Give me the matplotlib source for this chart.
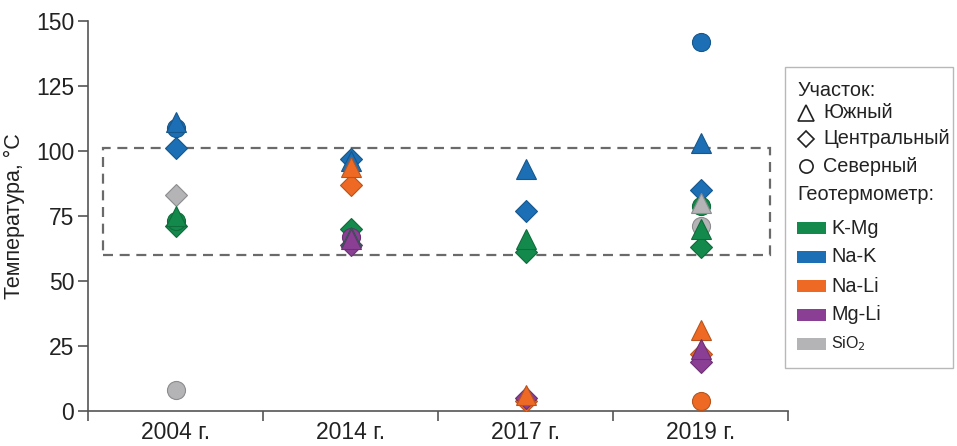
import numpy as np
import matplotlib
matplotlib.use("Agg")
import matplotlib.pyplot as plt
from matplotlib.patches import Rectangle

plt.rcParams["font.family"] = ["Liberation Sans", "DejaVu Sans"]

years = ["2004 г.", "2014 г.", "2017 г.", "2019 г."]
nan = np.nan

# Temperatures (°C) per geothermometer: south (triangle), central (diamond), north (circle)
kmg_south = [75, 67, 66, 70]
kmg_central = [71, 70, 61, 63]
kmg_north = [73, nan, nan, 79]

nak_south = [111, 96, 93, 103]
nak_central = [101, 97, 77, 85]
nak_north = [109, nan, nan, 142]

nali_south = [nan, 94, 6, 31]
nali_central = [nan, 87, 4, 22]
nali_north = [nan, nan, nan, 4]

mgli_south = [nan, 66, nan, 24]
mgli_central = [nan, 64, 5, 19]
mgli_north = [nan, 67, nan, nan]

sio2_south = [nan, nan, nan, 80]
sio2_central = [83, nan, nan, nan]
sio2_north = [8, nan, nan, 71]

# Reference temperature interval shown as a dashed frame
range_low, range_high = 60, 101

series = [
    ("K-Mg", "#138a4c", kmg_south, kmg_central, kmg_north),
    ("Na-K", "#1c6fb4", nak_south, nak_central, nak_north),
    ("Na-Li", "#ee6a24", nali_south, nali_central, nali_north),
    ("Mg-Li", "#8a3f95", mgli_south, mgli_central, mgli_north),
    ("SiO$_2$", "#b4b4b6", sio2_south, sio2_central, sio2_north),
]

W, H = 957, 446
fig = plt.figure(figsize=(W / 100, H / 100), dpi=100)
ax = fig.add_axes([88 / W, 1 - 411 / H, 700 / W, 390 / H])

x = np.arange(len(years))


def darker(c, f=0.78):
    r, g, b = matplotlib.colors.to_rgb(c)
    return (r * f, g * f, b * f)


# diamonds first, then circles, then triangles on top
for z, (idx, marker, ms) in enumerate([(3, "D", 11.0), (4, "o", 13.0), (2, "^", 14.0)]):
    for name, color, *vals in series:
        v = vals[idx - 2]
        ax.plot(x, v, linestyle="none", marker=marker, markersize=ms,
                markerfacecolor=color, markeredgecolor=darker(color),
                markeredgewidth=0.8, zorder=3 + z)

ax.add_patch(Rectangle((-0.415, range_low), 3.81, range_high - range_low,
                       fill=False, edgecolor="#6a6a6a", linewidth=1.6,
                       linestyle=(0, (4.5, 3)), zorder=2))

ax.set_xlim(-0.5, len(years) - 0.5)
ax.set_ylim(0, 150)
ax.set_yticks([0, 25, 50, 75, 100, 125, 150])
ax.set_xticks(x)
ax.set_xticklabels(years)
ax.set_xticks(np.arange(-0.5, len(years)), minor=True)
ax.tick_params(axis="x", which="major", length=0, pad=7, labelsize=16.5, labelcolor="#222222")
ax.tick_params(axis="x", which="minor", length=7, width=1.2, color="#555555", direction="out")
ax.tick_params(axis="y", length=7, width=1.2, color="#555555", pad=3, labelsize=16.5, labelcolor="#222222")
for s in ("top", "right"):
    ax.spines[s].set_visible(False)
for s in ("left", "bottom"):
    ax.spines[s].set_color("#555555")
    ax.spines[s].set_linewidth(1.2)
ax.set_ylabel("Температура, °C", fontsize=15.5, color="#222222", labelpad=8)

# Legend panel
lg = fig.add_axes([0, 0, 1, 1], zorder=10)
lg.set_xlim(0, W)
lg.set_ylim(H, 0)
lg.axis("off")
lg.add_patch(Rectangle((785, 67), 168, 301, fill=True, facecolor="white",
                       edgecolor="#b8b8b8", linewidth=1.0))
fs = 14.3
lg.text(797, 90, "Участок:", fontsize=fs, va="center", ha="left", color="#222222")
sites = [("^", 11, "Южный", 113), ("D", 8, "Центральный", 139), ("o", 9.5, "Северный", 166)]
for m, ms, label, yy in sites:
    lg.plot([806], [yy], marker=m, markersize=ms, markerfacecolor="white",
            markeredgecolor="#222222", markeredgewidth=1.2, linestyle="none")
    lg.text(823, yy, label, fontsize=fs, va="center", ha="left", color="#222222")
lg.text(797, 194, "Геотермометр:", fontsize=fs, va="center", ha="left", color="#222222")
for i, (name, color, *_) in enumerate(series):
    yy = 228 + i * 29
    lg.add_patch(Rectangle((797, yy - 6), 29, 12, facecolor=color, edgecolor="none"))
    lg.text(831, yy, name, fontsize=fs if i < 4 else 11.5, va="center", ha="left", color="#222222")

fig.savefig("out.png", dpi=100)
